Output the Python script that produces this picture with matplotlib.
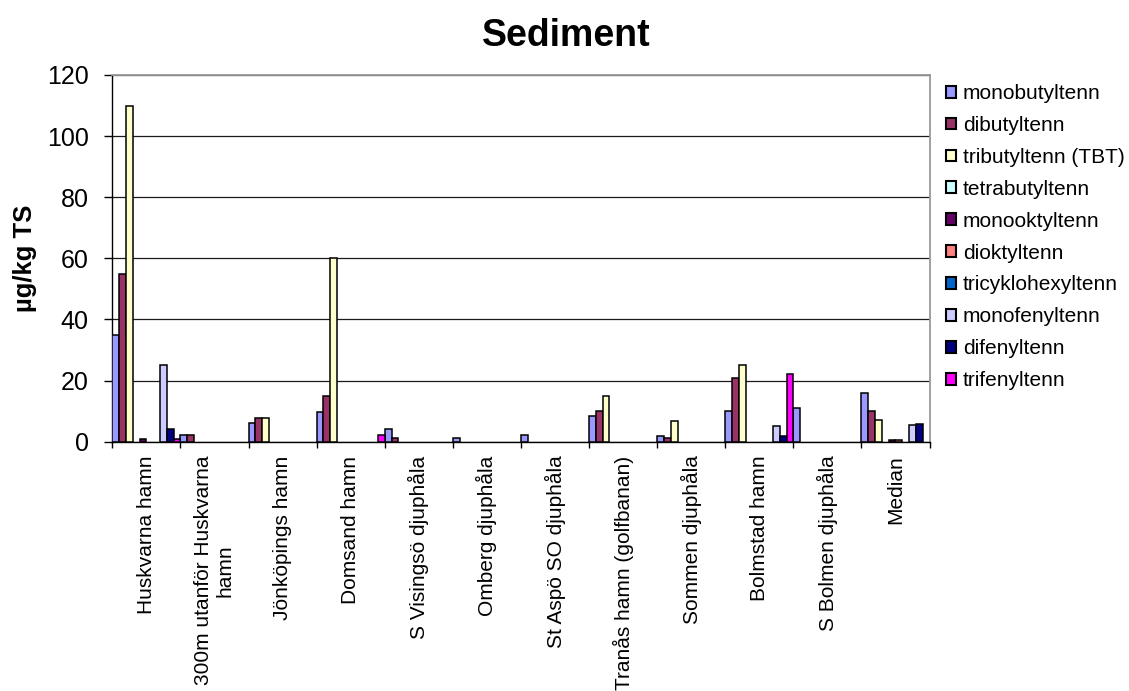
import numpy as np
import matplotlib.pyplot as plt
from matplotlib.patches import Patch

plt.rcParams['font.family'] = ['Liberation Sans', 'DejaVu Sans']

nan = np.nan

sites = ['Huskvarna hamn', '300m utanför Huskvarna\nhamn', 'Jönköpings hamn',
         'Domsand hamn', 'S Visingsö djuphåla', 'Omberg djuphåla',
         'St Aspö SO djuphåla', 'Tranås hamn (golfbanan)', 'Sommen djuphåla',
         'Bolmstad hamn', 'S Bolmen djuphåla', 'Median']

series_names = ['monobutyltenn', 'dibutyltenn', 'tributyltenn (TBT)', 'tetrabutyltenn',
                'monooktyltenn', 'dioktyltenn', 'tricyklohexyltenn', 'monofenyltenn',
                'difenyltenn', 'trifenyltenn']

monobutyl = [35, 2.2, 6.2, 9.8, 4.3, 1.3, 2.2, 8.5, 1.8, 10, 11, 16]
dibutyl = [55, 2.2, 7.8, 15, 1.2, nan, nan, 10, 1.1, 21, nan, 10]
tributyl = [110, nan, 7.6, 60, nan, nan, nan, 15, 6.7, 25, nan, 7]
tetrabutyl = [nan] * 12
monooktyl = [1, nan, nan, nan, nan, nan, nan, nan, nan, nan, nan, 0.4]
dioktyl = [nan, nan, nan, nan, nan, nan, nan, nan, nan, nan, nan, 0.4]
tricyklohexyl = [nan] * 12
monofenyl = [25, nan, nan, nan, nan, nan, nan, nan, nan, 5.2, nan, 5.5]
difenyl = [4.3, nan, nan, nan, nan, nan, nan, nan, nan, 2, nan, 5.9]
trifenyl = [1, nan, nan, 2.2, nan, nan, nan, nan, nan, 22, nan, nan]

all_series = [monobutyl, dibutyl, tributyl, tetrabutyl, monooktyl, dioktyl,
              tricyklohexyl, monofenyl, difenyl, trifenyl]

colors = ['#9999FF', '#993366', '#FFFFCC', '#CCFFFF', '#660066',
          '#FF8080', '#0066CC', '#CCCCFF', '#000080', '#FF00FF']

fig = plt.figure(figsize=(11.29, 6.91), dpi=100)
ax = fig.add_axes([0.0995, 0.3608, 0.8233 - 0.0995, 0.8915 - 0.3608])

n = len(all_series)
w = 1.0 / n
x = np.arange(len(sites))
for j, (vals, c) in enumerate(zip(all_series, colors)):
    vals = np.array(vals, dtype=float)
    m = ~np.isnan(vals)
    ax.bar(x[m] + j * w + w / 2, vals[m], width=w, color=c,
           edgecolor='black', linewidth=1.1, zorder=3)

ax.set_xlim(0, len(sites))
ax.set_ylim(0, 120)
ax.set_yticks(range(0, 121, 20))
ax.tick_params(axis='y', labelsize=18, length=6, width=1, pad=11, direction='out')
ax.yaxis.grid(True, color='#1a1a1a', linewidth=0.9, zorder=0)
ax.set_axisbelow(True)

# category boundaries carry the tick marks, labels sit in the middle
ax.set_xticks(np.arange(len(sites) + 1))
ax.set_xticklabels([])
ax.tick_params(axis='x', which='major', length=4, width=1, direction='out')
ax.set_xticks(x + 0.5, minor=True)
ax.set_xticklabels(sites, minor=True, rotation=90, fontsize=15, ha='center', va='top')
ax.tick_params(axis='x', which='minor', length=0, pad=10)

for s in ['top', 'right']:
    ax.spines[s].set_color('#999999')
    ax.spines[s].set_linewidth(1.3)
for s in ['left', 'bottom']:
    ax.spines[s].set_color('black')
    ax.spines[s].set_linewidth(1.0)

fig.text(0.502, 1 - 36 / 691, 'Sediment', fontsize=27, fontweight='bold', ha='center', va='center')
fig.text(25 / 1129, 1 - 258 / 691, 'µg/kg TS', fontsize=18.5, fontweight='bold',
         rotation=90, ha='center', va='center')

handles = [Patch(facecolor=c, edgecolor='black', linewidth=1.5) for c in colors]
fig.legend(handles, series_names, loc='upper left', bbox_to_anchor=(946 / 1129, 1 - 84 / 691),
           frameon=False, fontsize=15, handlelength=0.5, handleheight=0.5,
           handletextpad=0.3, labelspacing=0.62, borderpad=0, borderaxespad=0)

fig.savefig('out.png', dpi=100)
